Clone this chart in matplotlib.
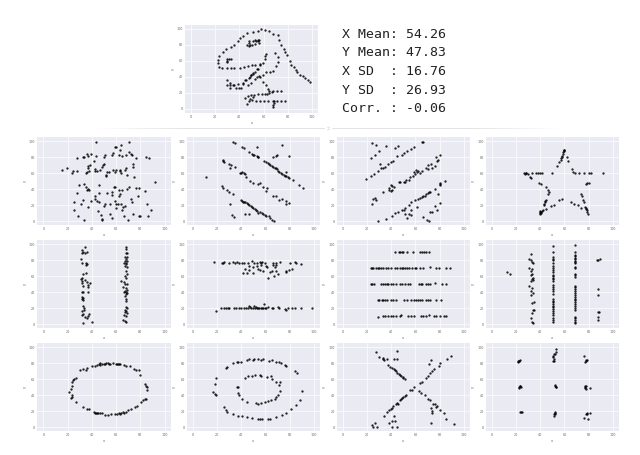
import matplotlib
matplotlib.use('Agg')
import matplotlib.pyplot as plt
from matplotlib.lines import Line2D
import numpy as np

stat_lines = ['X Mean: 54.26', 'Y Mean: 47.83', 'X SD  : 16.76', 'Y SD  : 26.93', 'Corr. : -0.06']
ticks = [0, 20, 40, 60, 80, 100]

dino = [(55.4,97.2),(51.5,96),(46.2,94.5),(42.8,91.4),(40.8,88.3),(38.7,84.9),(35.6,79.9),(33.1,77.6),(29,74.5),(26.2,71.4),
(23.1,66.4),(22.3,61.8),(22.3,57.2),(23.3,52.9),(25.9,51),(29.5,51),(32.8,51),(35.4,51.4),(40.3,51.4),(44.1,52.9),
(46.7,54.1),(50,55.3),(53.1,55.6),(56.7,56),(59.2,57.9),(61.3,62.2),(61.5,66.4),(61.8,69.1),(57.4,55.3),(54.9,49.9),
(52.6,46),(48.2,38.3),(49.5,42.2),(51,44.1),(45.4,36.7),(42.8,32.8),(38.7,31.3),(35.1,29.7),(32.6,29.7),(30,29.7),
(57.8,100),(61.4,99),(64.7,98),(68,94),(71.6,92),(72.5,86),(74.6,80),(76.6,75),(78,71),(79.6,67),
(81.5,60),(83,55),(85,52),(86.8,49),(88,46),(90,43),(92.3,41),(94.5,39),(96.4,36),(98.3,34),
(48.2,85),(48.2,83),(51.5,85),(53.2,86),(55.4,86),(56.5,86),(56,82.9),(52.6,81.2),(50.4,79.6),(47.7,79),
(46.6,80.4),(48.8,79.6),(55.5,85),(54,85),(29.8,62.5),(31,62.5),(33.1,63),(29.8,60.5),(30,59),
(69.4,69.6),(71.6,64.6),(71.9,59),(70.5,53.8),(68,48),(65,46.7),(62,46.3),(59.2,42),(56.7,40.4),(54.8,39.6),
(53.2,37.5),(49.9,32),(46.8,29.6),(30,36),(32,32),(32.5,26),(35.3,30),(37,26),(39.4,26),(41.3,26),
(42.7,31),(44.9,35.8),(48.8,39.6),(49.9,43),(51.5,45.4),(55,50),(56,41),(59.8,34),(62,30),(63.6,25),
(64.7,23),(67.5,23),(70.8,23),(74,23),(61.4,18.8),(63,18.8),(64.7,19.6),(67,20.8),(44.9,14),(47.4,15.8),
(49.6,17.5),(52.3,18),(55,18.3),(58.4,18.8),(53.7,10.4),(57.3,10.4),(60.6,10.4),(63.6,10.4),(67.5,10.4),(70.8,10.4),
(74.4,10.4),(78,10.4),(46,6.2),(48.8,13),(47.7,10),(50.4,11),(51.5,14.6),(68.3,8),(68,5),(68,3),(68.6,10)]

away = [(43.8,99.6),(70.7,99.6),(64.4,95.4),(58.9,93.3),(60.3,93.3),(63,89),(57.5,85),(62.5,83.3),(65.2,82),(67.9,83.3),
(71,86),(72.5,84),(73,83),(50.7,83),(50.2,80),(57,83),(36,84),(39,84),(37,81),(27.4,79),
(33,80),(33.7,80),(43.8,81),(85,80),(87,79),(76.7,78.8),(41.6,75),(50,71),(48.8,70),(36.7,69.6),
(38.4,70.4),(36.4,66),(74,71.6),(74,67.5),(68,66.7),(67,64),(42.7,65.4),(44.4,63.3),(42.2,62.5),(48,68.3),
(46.6,64),(15,64.6),(19.5,66),(24.7,63.3),(24,60),(27.4,62.5),(34.8,60),(35.6,62),(37.8,63.3),(52.6,62),
(54.2,62),(51.5,57),(51.5,58.3),(57.5,64),(59.7,64),(59,61),(63.6,64),(64.4,60),(63,62.5),(69,58),
(74.5,55.8),(91.8,48.8),(29.6,45.4),(33.4,45.8),(35,42.5),(37,40.4),(35.6,38.3),(37.5,38.3),(45.5,44.6),(28,35),
(42.5,31),(45.8,35.4),(52.6,35.4),(57,36),(58.4,42.5),(57,33),(58.9,42.5),(62.5,39),(63,34),(62.5,32),
(65.2,39),(69,40.4),(70.7,42.5),(76.7,41.6),(78.9,41.2),(83.8,37.5),(78.4,32),(72.6,28),(73.4,23.8),(85.5,20.8),
(89,13.3),(25.5,23.3),(25.5,13.3),(28.5,6),(33.7,1),(31,20.8),(32.4,25.8),(36.7,17.5),(39,25),(42.5,28),
(44.4,25),(46,23.8),(45.2,12),(47.4,7),(48,3),(48.5,1),(50,18.3),(51.2,20.8),(55.3,20.8),(58.9,25),
(60.3,20.8),(61.6,21.7),(59.7,16.7),(63.8,20.8),(65.8,17.5),(67,18.8),(65.2,14),(54.8,9),(57,4),(66.3,6),
(70,1),(74,9),(78.6,6),(80,6),(86.3,6)]

slant_down = [(33.4,99.6),(34.8,97.5),(40.3,92.5),(42,91.7),(52.6,93),(46.6,86),(48.5,84),(50.7,82.5),(52.6,81),(54,80),
(58.9,75),(62.2,72.5),(64,70),(66.3,67.5),(68.5,66),(70.4,63.3),(73,60),(75.3,58.3),(77.3,56),(79.5,54),
(82.7,51.7),(87.7,44.6),(91,41.7),(73.7,95.8),(79.5,81),(69.6,83),(66.3,80),(68.5,82),(77.3,61),(60.5,74),
(63,71),(65,69),(67.5,67),(69.5,65),(71.5,62),(74,59.5),(76,57),(78.5,55),(49.5,83),(53.5,80.5),
(24.7,77),(25.8,74),(24.7,75.8),(30,71.7),(31.5,70.4),(30.7,66),(34.8,67.5),(39,60),(41,61),(43,59),
(43.8,55),(47,50),(49.9,47.5),(54,45.8),(55.9,47.5),(58,42.5),(61.4,41.7),(60.3,37.5),(66.3,31),(69,32),
(71.2,25.8),(74,28),(77.3,25),(79.5,22.5),(76.7,20.8),(11,55.8),(40,60.5),(42,60),
(23.8,43.3),(25.2,41.7),(28,38.3),(30,37),(33.4,34),(30.7,20.8),(32,7),(34,5),(39.5,25.8),(41.6,23.8),
(43,23.8),(45.8,21.7),(47.7,18.3),(49.9,16.7),(52,14),(54.2,10),(55.9,11.3),(58,9),(60.8,5.8),(63.6,4.2),
(65.8,1.7),(67.4,0),(43.3,8.3),(46.6,8.3),(63,5.8),(40.5,24.5),(42,24),(44.5,22.5),(46.5,20),(48.5,17.5),
(51,15),(53,12),(57,10),(59.5,7)]

slant_up = [(23.8,97.5),(27.4,95.8),(35.3,93.8),(30,88.3),(26.6,83.3),(23,78.8),(43.3,91.7),(45.2,93.8),(44.4,81),(48.5,83),
(50.4,85),(52.6,87.5),(56.7,90.4),(59.2,93.3),(66.3,99.6),(65.8,99.6),(30.7,71.7),(39.5,73.8),(41.6,75.8),(37.5,71),
(31.2,66.7),(33.4,66.7),(34.8,68.3),(19.2,52.5),(23,57),(26,59),(29.3,62.5),(46,48.8),(47,48.8),(50.4,48.8),
(52,52),(51.2,48.8),(54.8,52),(55.3,55),(58,57),(59.5,59),(61.4,61),(62.2,63.3),(58.6,61),(60.3,64),
(65,63.3),(63.6,60),(68.5,66.7),(70.4,70.4),(73,71.7),(70.4,65.4),(74,66.7),(75.9,69.6),(77.8,75),(77.3,80),
(80,83.3),(78.6,77),(33.4,36),(38.4,41.7),(40.3,43.3),(41,39),(42.2,42.5),(39.5,37.5),(38.4,38.3),(40,45),
(29.3,0),(35.6,3),(40.3,6.7),(43,10),(45.8,11.3),(48.5,14),(51.2,16.7),(50.4,14),(54.8,19.6),(56.7,23.8),
(59.5,26.7),(62.2,28),(65,30),(67.7,32),(70.4,35),(72.3,37),(75.9,40.4),(80,44.6),(80.5,47.5),(84,50.8),
(25.2,28),(27.4,26.7),(24.4,21.7),(26.6,29),(51.2,9),(52.6,3.7),(54.8,8.3),(56.7,7),(56.7,14),(61.4,17.5),
(66.3,5),(69.6,1.7),(71,0),(72.3,11),(74,10.8),(75.9,18.3),(77.8,14),(80,23),(78.6,34),(63.5,29),
(66,31),(69,33.5),(71,36),(80.2,46)]

star = [(60,89.6),(59.5,87.5),(58.6,84),(57.8,80.8),(57,76.7),(55.9,73.8),(54.2,69.6),(59.8,88.5),(59,86),(58.2,82),
(57.4,78.5),(61.9,80),(63,75.8),(66,65),(67.4,61),(68.8,60),(72.3,60),(75.9,60),(80,60),(82,60),
(91.5,60),(27,60),(28.5,60),(29.9,59.2),(27.6,59.4),(28,60.5),(33.4,60),(36.7,60),(39.5,60),(41.6,60),
(38,60),(49.6,60),(31.2,55.8),(32.6,54),(38.9,48),(40.8,46.7),(44.4,42.5),(46.3,39),(47,36),(46.3,33.4),
(45,26.7),(43.6,23.8),(42.7,19.6),(44.2,25),(43.2,21.5),(39.5,9),(40.8,11.3),(39.5,11.3),(42.2,13.3),(40,10),
(41,10),(39.8,12),(41.5,12),(45,15.4),(48.5,18.3),(51.2,20),(55.9,25.8),(57.8,27),(65.5,23.8),(68.2,21.7),
(71,19.6),(73.7,16.7),(77.8,16.7),(78.6,13.3),(79.5,9),(78,15),(79,11),(77,17),(75,25.8),(73.7,34),
(74.2,31),(76.4,23.8),(77.8,46.7),(80,48.3),(79,47.5)]

v_lines = [(34.2,96),(32,93),(32.9,90.4),(31.8,88.8),(34.2,89.6),(35.6,90.8),(31,82),(31.5,77),(34.8,77),(35.6,75),
(34.8,74),(34.8,64.6),(32.9,62.5),(31.5,58.3),(31,56),(31.8,54),(31.5,52),(34.5,55),(35.6,53),(38.4,51),
(37,48.8),(37,45.8),(32.9,48),(31.8,40.4),(32.9,40.4),(36.4,39.6),(32,33.3),(32.9,32.5),(31.8,31),(32.3,30),
(32.3,22),(33.4,19.6),(33.7,18),(31.8,16.7),(32.9,12.5),(31.5,11),(34.5,8.3),(37,10.4),(37.8,12.5),(35.6,7.5),
(39.7,3),(32.3,1.3),(68,97),(68.5,94.6),(68,89.6),(69,88.8),(67.4,83.8),(69,84.6),(68,82),(67.2,79),
(69,79),(68,77),(66.3,76),(68.5,75),(67.4,73),(69,71),(68,66.7),(69,62.5),(67.4,60.4),(68,58.3),
(64.4,54),(66.3,53),(67,50),(69,50),(65.8,45.8),(68,44.6),(69,43),(67.4,41.7),(68.5,40.4),(66.8,39.6),
(69,38.8),(68,37.5),(67,35.4),(68.5,32),(68,29),(68,20.8),(69,19.6),(67,18),(68.5,16.7),(67.4,14.6),
(69,13.3),(66.3,11.3),(68,9.6),(65.8,5.4),(67,4.2),(68,2)]

high_lines = [(17.5,78.3),(23.8,77),(25.2,77),(25.8,78),(30,76.7),(33.4,78),(34.8,77),(36.7,78),(38,76.3),(40.3,77),
(42.5,76),(45.2,77),(48.5,79),(50.7,76),(53,76),(55.3,78),(57.5,78),(56,76),(59.5,77),(66.3,76),
(69,77),(71.8,78),(80.5,77),(84,78),(85.5,76),(89,75),(41.6,64.6),(44.4,63.8),(43,69.6),(46.6,73),
(49.3,72),(49.9,64.6),(46.6,68),(52.6,73),(53.7,68.8),(56.7,73.8),(55.9,68),(60.3,73),(61.4,72),(58,66.7),
(62.2,58.3),(64,65.4),(65.8,66.7),(67.7,71),(66.8,60.4),(69,66.7),(70.4,62.5),(76.7,65.4),(77.3,66.7),(79.5,68),
(82.2,68.8),(69,74),(66.3,74),(18.9,15.8),(23,20),(26,20),(27.5,20),(29,20),(30,19.5),(34,20),
(36,20),(38,20.5),(40,20),(42,20.5),(44,20),(45.5,20),(47,21),(48,19.5),(50,20),(51,20),
(52,21),(53,20),(54,20),(55,19.5),(56,20),(57,20.5),(58,20),(59.5,20.5),(60.5,20.5),(62,21),
(65,20.5),(66,20),(70,21),(71,19.5),(76,19),(77,18),(79,19.5),(82,20),(84,20),(89,20),
(98,20),(58.4,25),(50.7,23),(46,22.5)]

h_lines = [(43,90),(46.3,90),(47,90),(48.5,90),(50,90),(53.4,90),(58,90),(63.6,90),(65,90),(66.8,90),
(68.5,90),(71.2,90),(23,70),(23.8,70),(25.2,70),(27.4,70),(28.8,70),(30.1,70),(31.5,70),(32.9,70),
(35.6,70),(37.5,70),(39.5,70),(43,70),(44.4,70),(47,70),(48.5,70),(49.9,70),(51.2,70),(53.2,70),
(54.8,70),(57.5,70),(59.5,70),(60.8,70),(64.1,70),(66.3,70),(72.3,71),(76.7,70),(79.5,70),(85,70),
(88.8,70),(23,50),(24.4,50),(25.8,50),(31.5,50),(32.9,50),(34.8,50),(36.2,50),(37.5,50),(39.5,50),
(41.6,50),(43.8,50),(47.1,50),(48.5,50),(51.2,50),(54,50),(55.9,50),(62.7,50),(64.4,50),(65.8,50),
(68.5,50),(70.4,50),(72.3,50),(76.4,51),(82.2,50),(85,50),(28.8,30),(30.1,30),(32,30),(33.4,30),
(34.8,30),(36.2,30),(39.5,30),(41.6,30),(43.8,30),(50.7,30),(53.2,30),(56.7,30),(58.6,30),(60.8,30),
(62.2,30),(64.1,30),(65.8,30),(68.5,30),(70.4,30),(72.3,30),(77.3,30),(81.4,30),(28.8,9),(33.4,10),
(34.8,10),(37.5,10),(39.5,10),(41.6,10),(43.8,10),(47.1,10),(47.9,11),(54,10),(56.7,10),(58.6,10),
(64.4,10),(66.3,10),(68.5,10),(71.2,11),(75.3,10),(76.7,10),(80,10),(83.3,10),(85,10)]

wide_lines = [(12.6,65.4),(15.3,62.5),(32,87.5),(31,81),(32,80),(33,78),(34,76.5),(31,70),(33,69),(32,66),
(33,63),(32,61),(34,58),(33,56),(32,54),(34,55),(31,48),(33,45),(32,42),(34,39),
(32,37),(35,28),(33,26),(34,18),(35,17),(33,14),(32,7),(33,2),(34,1),
(50.5,98),(50.5,90),(50.5,84),(50.5,82),(50.5,80),(50.5,76),(50.5,73),(50.5,70),(50.5,68),(50.5,65),
(50.5,62),(50.5,60),(50.5,58),(50.5,56),(50.5,54),(50.5,49),(50.5,46),(50.5,44),(50.5,41),(50.5,38),
(50.5,31),(50.5,29),(50.5,27),(50.5,25),(50.5,23),(50.5,21),(50.5,19),(50.5,16),(50.5,14),(50.5,11),
(50.5,8),(50.5,5),(50.5,2),(69,99),(69,90),(69,87),(69,85),(69,83),(69,81),(69,79),
(69,78),(69,76),(69,72),(69,70),(69,63),(69,61),(69,59),(69,48),(69,46),(69,44),
(69,41),(69,39),(69,37),(69,34),(69,32),(69,30),(69,27),(69,25),(69,22),(69,20),
(69,17),(69,9),(69,7),(69,5),(69,3),(69,1),(88,80),(87,80),(89,81),(88,44.5),
(88,36),(87.5,15),(88.5,15),(88,9),(87.5,4.5)]

circle = [(21.4,43.8),(22.5,48),(23.3,52),(24,56),(24.7,59),(25.5,60.4),(26.8,61.7),(30,71),(32.3,73),(34.8,72),
(35.6,74),(40.5,76),(42.5,77),(44.4,78),(45.8,79),(46.6,80),(48,79),(49.9,79),(51.5,80),(53.4,80.4),
(55.3,79),(57.5,80),(59.7,78.8),(61.6,79),(63,79),(66.3,78),(68.5,76),(71.8,76),(74.5,72.9),(76.7,71.6),
(78.9,71),(79.5,65.4),(83.8,54),(85,52),(85.5,50),(85.5,45.8),(85,35.4),(83.6,34.6),(82.2,33.3),(80.8,32),
(77.3,25.8),(75.3,25),(72.6,23),(70,20.8),(68,18.8),(65.8,18.8),(63,16.7),(60.8,16.7),(58.9,15.8),(56,15.8),
(53.4,15.4),(50.7,15.4),(48,17.5),(45.2,17),(43.3,17.5),(41.6,18.8),(37.8,22),(35.6,23),(32.9,25.4),(26.8,32),
(23.3,37.5),(23.3,40.4),(22.7,36),(47,78),(50.5,79.5),(54.5,79.5),(60.5,79),(62,78.5),(64,17),(62,17),
(44,18),(46.5,17),(42.5,18),(66.8,18)]

bullseye = [(17,43.8),(18.4,41.7),(18.9,40.4),(18.4,54),(18.9,61),(27.4,74),(28.5,75),(33.4,80),(36.2,81),(37.5,81),
(39.5,82),(44.4,84.6),(46.6,85.4),(49.3,84.6),(50.4,85.4),(54,85.4),(56.7,84.6),(58,85.4),(63,83),(65.8,84),
(68.5,82),(71.2,81),(73,80),(76.4,78),(77.3,77),(84.7,70),(86.3,67.5),(90.4,44.6),(88.8,33.3),(84.9,27),
(81.4,22),(77.3,18),(73.7,15.4),(69,12.5),(64,10.4),(62.2,10.4),(57.5,9.6),(55.3,10.4),(54,9.6),(48.5,11.3),
(44.4,12.5),(40.3,13.8),(37.5,13.8),(33.4,16.7),(28.5,18.8),(27.4,20.8),(25.8,24.6),(43,61.7),(45.8,63.8),(48.5,64.6),
(51.2,65.4),(55.3,65.4),(56.7,63.8),(61.4,62.5),(64.9,63.8),(65.8,60.4),(68.5,56),(71.8,56.7),(71.2,53),(72.3,44.6),
(70.4,39.6),(69,37.5),(67.7,34.6),(64.9,33.3),(62.2,32.5),(59.5,31.3),(56,30),(54,29.2),(52,30),(44.4,31.3),
(40.3,35.4),(38.4,39.6),(37.5,42.9),(37.5,50),(36.2,50)]

x_shape = [(27.4,93.8),(29.6,88.3),(44.4,95.8),(42.2,85),(44.4,85),(32.9,85.4),(34.2,84.6),(36.2,85.4),(33.4,86.2),(37,78),
(38.9,75),(41,73.8),(43,71.7),(44.9,68.3),(47,65.4),(49.3,62.5),(51.2,60.4),(42,73),(44,70),(46,66.5),
(48.3,64),(50,61.5),(89.6,89.6),(86,85.4),(80.5,80.4),(79.5,77),(73,84.6),(71.2,79),(75,73),(74,70.8),
(72.3,67.9),(70.4,64.6),(68.5,61.3),(63.6,55),(65,56.3),(59,50.8),(55.9,45.8),(57.5,46.7),(52,39.6),(49.9,37.5),
(47.9,34.6),(45.8,29.2),(43.8,29.2),(41.6,25.8),(39.7,22.9),(38.4,20.8),(36.2,18.8),(34.2,13.3),(51.2,38.3),(49,36.3),
(47.1,33.3),(44.9,29.6),(40.5,24.2),(26.6,5.4),(23.8,2),(24.6,0),(28.5,0),(42.2,13.3),(43,7),(41,7),
(38.4,5.4),(41,0.4),(44.9,0.4),(63,45),(64.9,42.9),(67.7,39.6),(70.4,35.4),(71.8,33.3),(74.5,29.2),(75.9,29.2),
(77.8,25.8),(80.5,21.7),(83.3,17.5),(84.9,9.6),(92,3.3),(73,23.8),(74,19.6),(73.4,17),(77.3,25),(73.2,5)]

dots = [(22.5,83.3),(22,83),(23,84),(22.7,82.5),(21.8,82),(23,51),(22.5,50),(23.5,51.5),(22.8,49.5),(23.8,50.5),
(24.4,18.8),(23,18.3),(25,19),(51.2,83.3),(50.4,87.5),(51.2,91.7),(53.2,93.8),(52.6,97.9),(50.2,83),(51,85),
(50.8,89),(52,92),(52.3,51),(52,52.5),(52.8,50),(53,50.7),(51.8,17.5),(51.2,13.3),(52.5,18.5),(51,16.5),
(52.2,16),(75.9,88.8),(78.6,84.6),(77.8,82.5),(77,82),(78,83.5),(77.3,50),(81,49.2),(76.8,52),(77.8,48),
(78,51),(76.6,49.5),(78.4,15.8),(81,17),(75.9,11.3),(79.2,10.4),(77.5,16),(79,17)]

top_box = (185, 25, 318, 113)
row_tops = [(137.3, 225), (240.3, 328), (343.3, 431)]
col_lefts = [(37.3, 170.7), (186.7, 320), (336.7, 470), (485.7, 619)]
panels = [[away, slant_down, slant_up, star],
          [v_lines, high_lines, h_lines, wide_lines],
          [circle, bullseye, x_shape, dots]]

W, H = 640, 455
fig = plt.figure(figsize=(6.4, 4.55), dpi=100)

def draw_panel(points, left, top, right, bottom):
    ax = fig.add_axes([left/W, 1-bottom/H, (right-left)/W, (bottom-top)/H])
    ax.set_facecolor('#EAEAF2')
    ax.grid(True, color='white', linewidth=0.5)
    ax.set_axisbelow(True)
    for s in ax.spines.values():
        s.set_visible(False)
    pts = np.array(points)
    ax.scatter(pts[:, 0], pts[:, 1], s=2.8, c='black', alpha=0.85, linewidths=0)
    ax.set_xlim(-5, 105)
    ax.set_ylim(-5, 105)
    ax.set_xticks(ticks)
    ax.set_yticks(ticks)
    ax.tick_params(length=0, labelsize=2.4, labelcolor='#666666', pad=1.5)
    ax.set_xlabel('x', fontsize=2.6, color='#666666', labelpad=1.5)
    ax.set_ylabel('y', fontsize=2.6, color='#666666', labelpad=1.5)

draw_panel(dino, top_box[0], top_box[1], top_box[2], top_box[3])
for r in range(3):
    for c in range(4):
        draw_panel(panels[r][c], col_lefts[c][0], row_tops[r][0], col_lefts[c][1], row_tops[r][1])

text_y = [34.3, 52.7, 71.7, 90.3, 109]
for line, yp in zip(stat_lines, text_y):
    fig.text(341.5/W, 1-yp/H, line, family='DejaVu Sans Mono', fontsize=9.5, color='#222222', va='center', ha='left')

# divider fades out to white at both ends, small gap in the middle
sep_y = 1 - 127.5/H
edges = np.linspace(0, 1, 25)
for a, b in zip(edges[:-1], edges[1:]):
    shade = 1 - 0.11*min(1, b*2.5)
    for sign in (-1, 1):
        x0 = (328 + sign*(230 - 227*a))/W
        x1 = (328 + sign*(230 - 227*b))/W
        fig.add_artist(Line2D([x0, x1], [sep_y, sep_y], color=str(shade), linewidth=0.7))
fig.add_artist(Line2D([328/W], [sep_y], marker='o', markersize=1.5, color='#e2e2e2', linewidth=0))
# white gap either side of the little centre dot
for x0, x1 in [(325, 327), (329, 331)]:
    fig.add_artist(Line2D([x0/W, x1/W], [sep_y, sep_y], color='white', linewidth=1.0))

fig.savefig('out.png', dpi=100)
